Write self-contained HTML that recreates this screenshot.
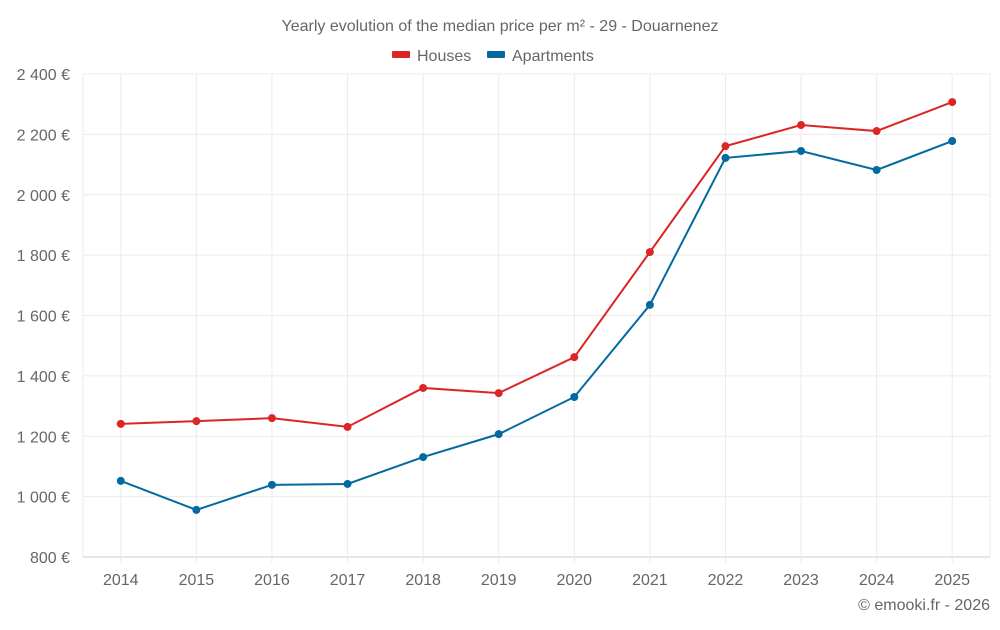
<!DOCTYPE html>
<html><head><meta charset="utf-8"><style>
body{margin:0;background:#fff;font-family:"Liberation Sans",sans-serif;}
svg text{font-family:"Liberation Sans",sans-serif;fill:#666;}
</style></head><body>
<svg id="chart" width="1000" height="625">
<text x="500" y="31" text-anchor="middle" font-size="16">Yearly evolution of the median price per m² - 29 - Douarnenez</text>
<g>
<g><rect x="392" y="51" width="18" height="7" rx="1" fill="#dc2626"/><text x="417" y="61" font-size="16">Houses</text></g>
<g><rect x="487" y="51" width="18" height="7" rx="1" fill="#0369a1"/><text x="512" y="61" font-size="16">Apartments</text></g>
</g>
<g id="grid"></g><g id="axes"></g><g id="series"></g>
<text x="990" y="610" text-anchor="end" font-size="16">© emooki.fr - 2026</text>
</svg>
<script>
const years=[2014,2015,2016,2017,2018,2019,2020,2021,2022,2023,2024,2025];
const houses=[1241,1250,1260,1231,1360,1343,1462,1810,2161,2231,2211,2307];
const apartments=[1052,956,1039,1042,1131,1207,1330,1635,2122,2145,2082,2178];
const yTicks=[800,1000,1200,1400,1600,1800,2000,2200,2400];
const yTickLabels=["800 €","1 000 €","1 200 €","1 400 €","1 600 €","1 800 €","2 000 €","2 200 €","2 400 €"];
const NS="http://www.w3.org/2000/svg";
const L=83,R=990,T=74,B=557;
const step=(R-L)/years.length;
const x=i=>L+step*(i+0.5);
const y=v=>B-(v-800)/1600*(B-T);
function mk(tag,attrs,parent){const e=document.createElementNS(NS,tag);for(const k in attrs)e.setAttribute(k,attrs[k]);parent.appendChild(e);return e;}
const grid=document.getElementById('grid'),axes=document.getElementById('axes'),series=document.getElementById('series');
yTicks.forEach((t,i)=>{
 const l=mk('line',{x1:L,x2:R,y1:y(t),y2:y(t),stroke:i==0?'#ccc':'#ebebeb'},grid);
 
 
 const tx=mk('text',{x:70,y:y(t)+6,'text-anchor':'end','font-size':16},axes);
 tx.textContent=yTickLabels[i];
 
 
});
[L,R].forEach(px=>{
 const l=mk('line',{x1:px,x2:px,y1:T,y2:B,stroke:'#ebebeb'},grid);
 
 
});
years.forEach((yr,i)=>{
 const l=mk('line',{x1:x(i),x2:x(i),y1:T,y2:B+6,stroke:'#ebebeb'},grid);
 
 
 const tx=mk('text',{x:x(i),y:585,'text-anchor':'middle','font-size':16},axes);
 tx.textContent=yr;
 
 
});
function draw(vals,color,name){
 const p=mk('polyline',{points:vals.map((v,i)=>x(i)+','+y(v)).join(' '),fill:'none',stroke:color,'stroke-width':2},series);
 
 
 vals.forEach((v,i)=>{
  const c=mk('circle',{cx:x(i),cy:y(v),r:4,fill:color},series);
  
  
 });
}
draw(houses,'#dc2626','houses');
draw(apartments,'#0369a1','apartments');
</script>
</body></html>
